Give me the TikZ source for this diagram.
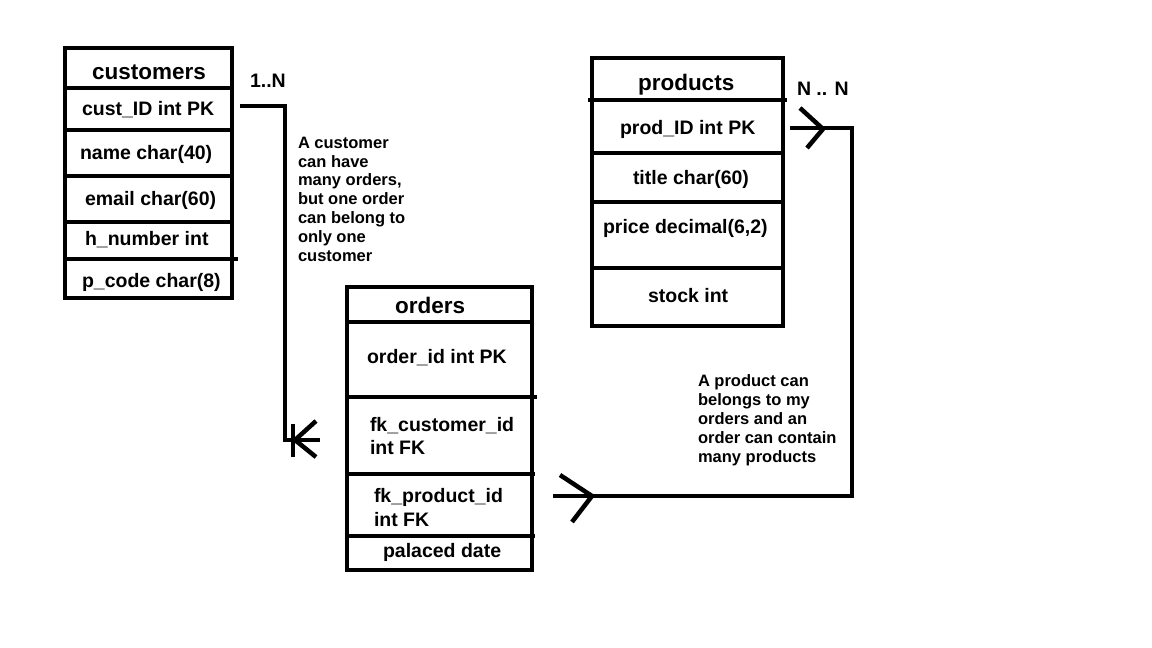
\documentclass[tikz,border=0pt]{standalone}
\usepackage{fontspec}
\setmainfont{Liberation Sans}
\begin{document}
\begin{tikzpicture}[x=1pt,y=-1pt,line width=4pt,
  field/.style={font=\fontsize{19.5}{22}\selectfont\bfseries,inner sep=0pt,anchor=base west,xshift=-2pt},
  ttl/.style={font=\fontsize{22.5}{26}\selectfont\bfseries,inner sep=0pt,anchor=base west,xshift=-2pt},
  note/.style={font=\fontsize{16.5}{18.8}\selectfont\bfseries,align=left,inner sep=0pt,anchor=north west,xshift=-2pt},
  conn/.style={line width=4.5pt,line join=miter}]
\useasboundingbox[fill=white] (0,0) rectangle (1152,648);

% customers table
\draw (65,48) rectangle (232,298);
\draw (65,88) -- (232,88);
\draw (65,130) -- (234,130);
\draw (65,176) -- (232,176);
\draw (65,222) -- (233,222);
\draw (65,259) -- (238,259);
\node[ttl] (custT) at (92,79) {customers};
\node[field] (custid) at (82,115) {cust\_ID int PK};
\node[field] (cname) at (80,159) {name char(40)};
\node[field] (cemail) at (85,205) {email char(60)};
\node[field] (chnum) at (85,245) {h\_number int};
\node[field] (cpcode) at (82,287) {p\_code char(8)};

% products table
\draw (592,58) rectangle (783,326);
\draw (588,100) -- (787,100);
\draw (592,153) -- (785,153);
\draw (592,202) -- (783,202);
\draw (592,268) -- (783,268);
\node[ttl] (prodT) at (638,90) {products};
\node[field] (prodid) at (620,134) {prod\_ID int PK};
\node[field] (ptitle) at (633,184) {title char(60)};
\node[field] (pprice) at (603,233) {price decimal(6,2)};
\node[field] (pstock) at (648,302) {stock int};

% orders table
\draw (347,287) rectangle (532,570);
\draw (347,322) -- (532,322);
\draw (347,397) -- (537,397);
\draw (347,474) -- (535,474);
\draw (347,536) -- (535,536);
\node[ttl] (ordT) at (395,313) {orders};
\node[field] (ordid) at (367,363) {order\_id int PK};
\node[field] (fkcust) at (370,431) {fk\_customer\_id};
\node[field] (fkcust2) at (370,454) {int FK};
\node[field] (fkprod) at (374,502) {fk\_product\_id};
\node[field] (fkprod2) at (374,526) {int FK};
\node[field] (odate) at (383,557) {palaced date};

% labels
\node[field] (card1) at (250,87) {1..N};
\node[field] (card2) at (797,95) {N .. N};
\node[note] (note1) at (298,135) {A customer\\can have\\many orders,\\but one order\\can belong to\\only one\\customer};
\node[note] (note2) at (698,373) {A product can\\belongs to my\\orders and an\\order can contain\\many products};

% connector customers -> orders
\coordinate (c1a) at (240,106);
\coordinate (c1b) at (285,106);
\coordinate (c1c) at (285,440);
\coordinate (c1d) at (320,440);
\coordinate (cfA) at (295,440);
\draw[conn] (c1a) -- (c1b) -- (c1c) -- (c1d);
\draw[conn] (293,424) -- (293,457);
\draw[conn] (316,421) -- (cfA) -- (316,457);

% connector orders -> products
\coordinate (c2a) at (553,496);
\coordinate (c2b) at (852,496);
\coordinate (c2c) at (852,128);
\coordinate (c2d) at (790,128);
\draw[conn] (c2a) -- (c2b) -- (c2c) -- (c2d);
\draw[conn,line join=round] (560,475) -- (592,496) -- (572,522);
\draw[conn,line join=round] (800,108) -- (823,129) -- (807,148);
\end{tikzpicture}
\end{document}
